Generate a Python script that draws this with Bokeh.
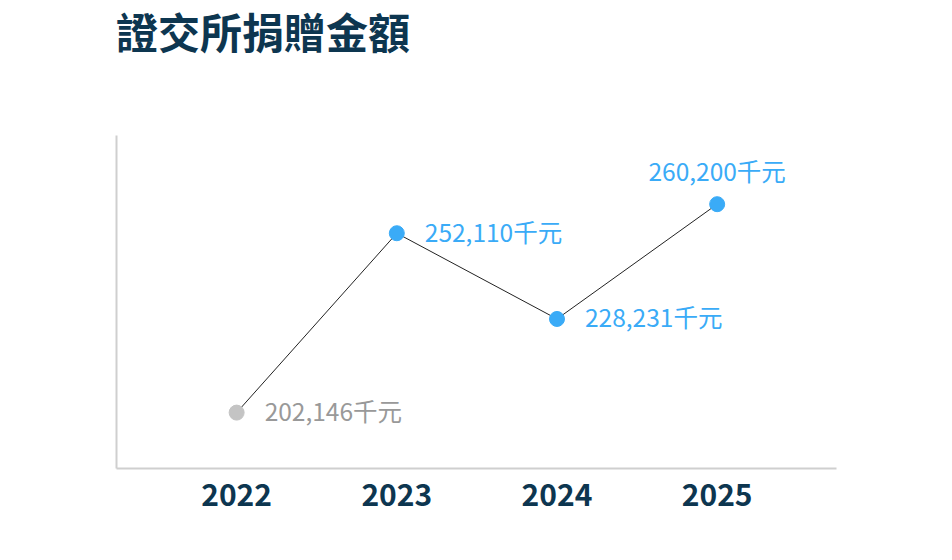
from bokeh.plotting import figure
from bokeh.models import Range1d, FixedTicker, ColumnDataSource, Div
from bokeh.layouts import column
from bokeh.core.properties import value
from bokeh.embed import file_html
from bokeh.resources import INLINE

years = [2022, 2023, 2024, 2025]
amounts = [202146, 252110, 228231, 260200]
point_colors = ["#c4c4c4", "#3aabf7", "#3aabf7", "#3aabf7"]
text_colors = ["#999999", "#3aabf7", "#3aabf7", "#3aabf7"]
labels = [f"{v:,}千元" for v in amounts]
title_text = "證交所捐贈金額"

FONT = "Noto Sans CJK TC"

title_div = Div(
    text=('<div style="margin:0 0 0 116px; padding-top:10px; '
          "font-family:'Noto Sans CJK TC'; font-size:42px; font-weight:bold; "
          'color:#0d3650; line-height:1; white-space:nowrap;">'
          + title_text + '</div>'),
    width=944, height=100, margin=0)

p = figure(width=944, height=452, output_backend="svg", toolbar_location=None,
           x_range=Range1d(2021.25, 2025.745), y_range=Range1d(186580, 279330),
           min_border_left=116, min_border_right=108, min_border_top=35,
           min_border_bottom=84, margin=0)
p.outline_line_color = None
p.grid.visible = False
p.background_fill_color = "white"
p.border_fill_color = "white"

src = ColumnDataSource(dict(x=years, y=amounts, c=point_colors, tc=text_colors, t=labels))
p.line("x", "y", source=src, line_color="#222222", line_width=1)
p.scatter("x", "y", source=src, size=15, fill_color="c", line_color="c")

side = ColumnDataSource(dict(x=years[:3], y=amounts[:3], tc=text_colors[:3], t=labels[:3]))
top = ColumnDataSource(dict(x=years[3:], y=amounts[3:], tc=text_colors[3:], t=labels[3:]))
p.text("x", "y", text="t", source=side, text_color="tc", x_offset=28, y_offset=-2,
       text_align="left", text_baseline="middle", text_font=value(FONT),
       text_font_size="24.5px")
p.text("x", "y", text="t", source=top, text_color="tc", y_offset=-34,
       text_align="center", text_baseline="middle", text_font=value(FONT),
       text_font_size="24.5px")

p.xaxis.ticker = FixedTicker(ticks=years)
p.xaxis.major_tick_line_color = None
p.xaxis.minor_tick_line_color = None
p.xaxis.axis_line_color = "#cfcfcf"
p.xaxis.axis_line_width = 2
p.xaxis.major_label_text_font = FONT
p.xaxis.major_label_text_font_size = "30px"
p.xaxis.major_label_text_font_style = "bold"
p.xaxis.major_label_text_color = "#0d3650"
p.xaxis.major_label_standoff = 9

p.yaxis.ticker = FixedTicker(ticks=[])
p.yaxis.major_tick_line_color = None
p.yaxis.minor_tick_line_color = None
p.yaxis.major_label_text_font_size = "0px"
p.yaxis.axis_line_color = "#cfcfcf"
p.yaxis.axis_line_width = 2

layout = column(title_div, p, spacing=0, margin=0)
open("out.html", "w").write(file_html(layout, INLINE))
